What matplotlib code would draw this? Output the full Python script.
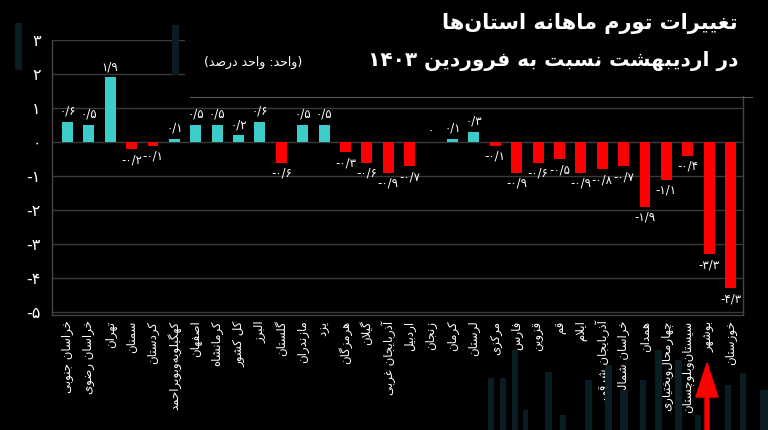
import re
import matplotlib
matplotlib.use("Agg")
import matplotlib.pyplot as plt
from matplotlib.patches import Rectangle, FancyArrow
from matplotlib.lines import Line2D

# ---------------- data ----------------
provinces = [
    "خراسان جنوبی", "خراسان رضوی", "تهران", "سمنان", "کردستان",
    "کهگیلویه‌وبویراحمد", "اصفهان", "کرمانشاه", "کل کشور", "البرز",
    "گلستان", "مازندران", "یزد", "هرمزگان", "گیلان", "آذربایجان غربی",
    "اردبیل", "زنجان", "کرمان", "لرستان", "مرکزی", "فارس", "قزوین", "قم",
    "ایلام", "آذربایجان شرقی", "خراسان شمالی", "همدان",
    "چهارمحال‌وبختیاری", "سیستان‌وبلوچستان", "بوشهر", "خوزستان",
]
values = [0.6, 0.5, 1.9, -0.2, -0.1, 0.1, 0.5, 0.5, 0.2, 0.6,
          -0.6, 0.5, 0.5, -0.3, -0.6, -0.9, -0.7, 0.0, 0.1, 0.3,
          -0.1, -0.9, -0.6, -0.5, -0.9, -0.8, -0.7, -1.9, -1.1, -0.4,
          -3.3, -4.3]
yticks = [3, 2, 1, 0, -1, -2, -3, -4, -5]
title1 = "تغییرات تورم ماهانه استان‌ها"
title2 = "در اردیبهشت نسبت به فروردین ۱۴۰۳"
unit_text = "(واحد: واحد درصد)"

# ---------------- simple Persian shaping ----------------
FORMS = {
    "ا": ("\uFE8D", "\uFE8E", None, None),
    "آ": ("\uFE81", "\uFE82", None, None),
    "ب": ("\uFE8F", "\uFE90", "\uFE91", "\uFE92"),
    "پ": ("\uFB56", "\uFB57", "\uFB58", "\uFB59"),
    "ت": ("\uFE95", "\uFE96", "\uFE97", "\uFE98"),
    "ث": ("\uFE99", "\uFE9A", "\uFE9B", "\uFE9C"),
    "ج": ("\uFE9D", "\uFE9E", "\uFE9F", "\uFEA0"),
    "چ": ("\uFB7A", "\uFB7B", "\uFB7C", "\uFB7D"),
    "ح": ("\uFEA1", "\uFEA2", "\uFEA3", "\uFEA4"),
    "خ": ("\uFEA5", "\uFEA6", "\uFEA7", "\uFEA8"),
    "د": ("\uFEA9", "\uFEAA", None, None),
    "ذ": ("\uFEAB", "\uFEAC", None, None),
    "ر": ("\uFEAD", "\uFEAE", None, None),
    "ز": ("\uFEAF", "\uFEB0", None, None),
    "ژ": ("\uFB8A", "\uFB8B", None, None),
    "س": ("\uFEB1", "\uFEB2", "\uFEB3", "\uFEB4"),
    "ش": ("\uFEB5", "\uFEB6", "\uFEB7", "\uFEB8"),
    "ص": ("\uFEB9", "\uFEBA", "\uFEBB", "\uFEBC"),
    "ض": ("\uFEBD", "\uFEBE", "\uFEBF", "\uFEC0"),
    "ط": ("\uFEC1", "\uFEC2", "\uFEC3", "\uFEC4"),
    "ظ": ("\uFEC5", "\uFEC6", "\uFEC7", "\uFEC8"),
    "ع": ("\uFEC9", "\uFECA", "\uFECB", "\uFECC"),
    "غ": ("\uFECD", "\uFECE", "\uFECF", "\uFED0"),
    "ف": ("\uFED1", "\uFED2", "\uFED3", "\uFED4"),
    "ق": ("\uFED5", "\uFED6", "\uFED7", "\uFED8"),
    "ک": ("\uFB8E", "\uFB8F", "\uFB90", "\uFB91"),
    "گ": ("\uFB92", "\uFB93", "\uFB94", "\uFB95"),
    "ل": ("\uFEDD", "\uFEDE", "\uFEDF", "\uFEE0"),
    "م": ("\uFEE1", "\uFEE2", "\uFEE3", "\uFEE4"),
    "ن": ("\uFEE5", "\uFEE6", "\uFEE7", "\uFEE8"),
    "ه": ("\uFEE9", "\uFEEA", "\uFEEB", "\uFEEC"),
    "و": ("\uFEED", "\uFEEE", None, None),
    "ی": ("\uFBFC", "\uFBFD", "\uFBFE", "\uFBFF"),
    "ئ": ("\uFE89", "\uFE8A", "\uFE8B", "\uFE8C"),
}
LAMALEF = {"ا": ("\uFEFB", "\uFEFC"), "آ": ("\uFEF5", "\uFEF6")}


def dual(c):
    return c in FORMS and FORMS[c][2] is not None


def shape(text):
    out = []
    i = 0
    n = len(text)
    while i < n:
        c = text[i]
        if c not in FORMS:
            if c != "\u200c":
                out.append(c)
            i += 1
            continue
        prev = text[i - 1] if i > 0 else ""
        pj = dual(prev)
        if c == "ل" and i + 1 < n and text[i + 1] in LAMALEF:
            lig = LAMALEF[text[i + 1]]
            out.append(lig[1] if pj else lig[0])
            i += 2
            continue
        nxt = text[i + 1] if i + 1 < n else ""
        nj = dual(c) and nxt in FORMS
        f = FORMS[c]
        if pj and nj:
            out.append(f[3])
        elif pj:
            out.append(f[1])
        elif nj:
            out.append(f[2])
        else:
            out.append(f[0])
        i += 1
    return "".join(out)


MIRROR = {"(": ")", ")": "("}


def rtl(text):
    s = shape(text)
    tokens = re.findall(r"[0-9۰-۹]+|.", s)
    tokens = [MIRROR.get(t, t) for t in tokens[::-1]]
    return "".join(tokens)


FA_DIG = str.maketrans("0123456789", "۰۱۲۳۴۵۶۷۸۹")


def fa_num(v, dec=True):
    if v == 0:
        return "۰"
    s = f"{abs(v):.1f}" if dec else f"{abs(v):d}"
    s = s.translate(FA_DIG).replace(".", "/")
    return ("-" if v < 0 else "") + s


# ---------------- figure ----------------
plt.rcParams["font.family"] = ["DejaVu Sans"]
BG = "#000000"
TEAL = "#3ccccc"
RED = "#ff0000"
GRID = "#3a3a3a"
DECO = "#0a1c24"

fig = plt.figure(figsize=(7.68, 4.30), dpi=100, facecolor=BG)

# faint decorative background stripes (figure coords, pixels)
deco = [(15, 22, 23, 70), (172, 179, 25, 75), (215, 222, 8, 60), (245, 250, 8, 60),
        (255, 262, 8, 75), (273, 279, 8, 75), (315, 322, 8, 40),
        (488, 494, 378, 430), (500, 506, 378, 430), (512, 518, 350, 430),
        (523, 528, 410, 430), (545, 552, 372, 430), (560, 566, 415, 430),
        (585, 592, 380, 430), (605, 612, 365, 430), (620, 628, 390, 430),
        (640, 646, 380, 430), (655, 662, 350, 430), (675, 682, 360, 430),
        (695, 701, 415, 430), (725, 731, 385, 430), (740, 746, 373, 430),
        (760, 768, 390, 430)]
for x0, x1, y0, y1 in deco:
    fig.patches.append(Rectangle((x0 / 768, 1 - y1 / 430), (x1 - x0) / 768,
                                 (y1 - y0) / 430, transform=fig.transFigure,
                                 facecolor=DECO, edgecolor="none", zorder=0))

ax = fig.add_axes([52 / 768, 1 - 315 / 430, (743 - 52) / 768, (315 - 40) / 430])
ax.set_facecolor("none")
x = list(range(len(values)))
colors = [TEAL if v >= 0 else RED for v in values]
ax.bar(x, values, width=0.51, color=colors, zorder=3)

ax.set_ylim(-5.08, 3)
ax.set_xlim(-0.72, len(values) - 1 + 0.58)
ax.set_yticks(yticks)
ax.set_yticklabels([fa_num(t, dec=False) for t in yticks], color="white", fontsize=11.5)
ax.yaxis.grid(True, color=GRID, linewidth=1, zorder=0)
ax.tick_params(axis="y", length=0, pad=8)
ax.tick_params(axis="x", length=0, pad=4)
ax.set_xticks(x)
ax.set_xticklabels([rtl(p) for p in provinces], rotation=90, color="white",
                   fontsize=8.5, va="top", ha="center")
ax.spines["top"].set_visible(False)
for sp in ["left", "bottom", "right"]:
    ax.spines[sp].set_color("#444444")
    ax.spines[sp].set_linewidth(1)

for xi, v in zip(x, values):
    if v >= 0:
        ax.annotate(fa_num(v), (xi, v), xytext=(0, 3), textcoords="offset points",
                    ha="center", va="bottom", color="white", fontsize=8.5, zorder=4)
    else:
        ax.annotate(fa_num(v), (xi, v), xytext=(0, -3), textcoords="offset points",
                    ha="center", va="top", color="white", fontsize=8.5, zorder=4)

# title block (black panel over the plot)
fig.patches.append(Rectangle((185 / 768, 1 - 96 / 430), (768 - 185) / 768, 96 / 430,
                             transform=fig.transFigure, facecolor=BG,
                             edgecolor="none", zorder=5))
fig.lines.append(Line2D([190 / 768, 752 / 768], [1 - 97 / 430, 1 - 97 / 430],
                        transform=fig.transFigure, color="#555555", linewidth=0.8,
                        zorder=6))
fig.text(738 / 768, 1 - 24 / 430, rtl(title1), color="white", fontsize=15,
         fontweight="bold", ha="right", va="center", zorder=7)
fig.text(738 / 768, 1 - 61 / 430, rtl(title2), color="white", fontsize=14.5,
         fontweight="bold", ha="right", va="center", zorder=7)
fig.text(302 / 768, 1 - 62 / 430, rtl(unit_text), color="white", fontsize=9,
         ha="right", va="center", zorder=7)

# red arrow pointing at Bushehr
fig.patches.append(FancyArrow(707 / 768, 1 - 432 / 430, 0, (432 - 363) / 430,
                              width=4 / 768, head_width=22 / 768,
                              head_length=34 / 430, length_includes_head=True,
                              transform=fig.transFigure, color=RED, zorder=8))

fig.savefig("out.png", dpi=100, facecolor=BG)
